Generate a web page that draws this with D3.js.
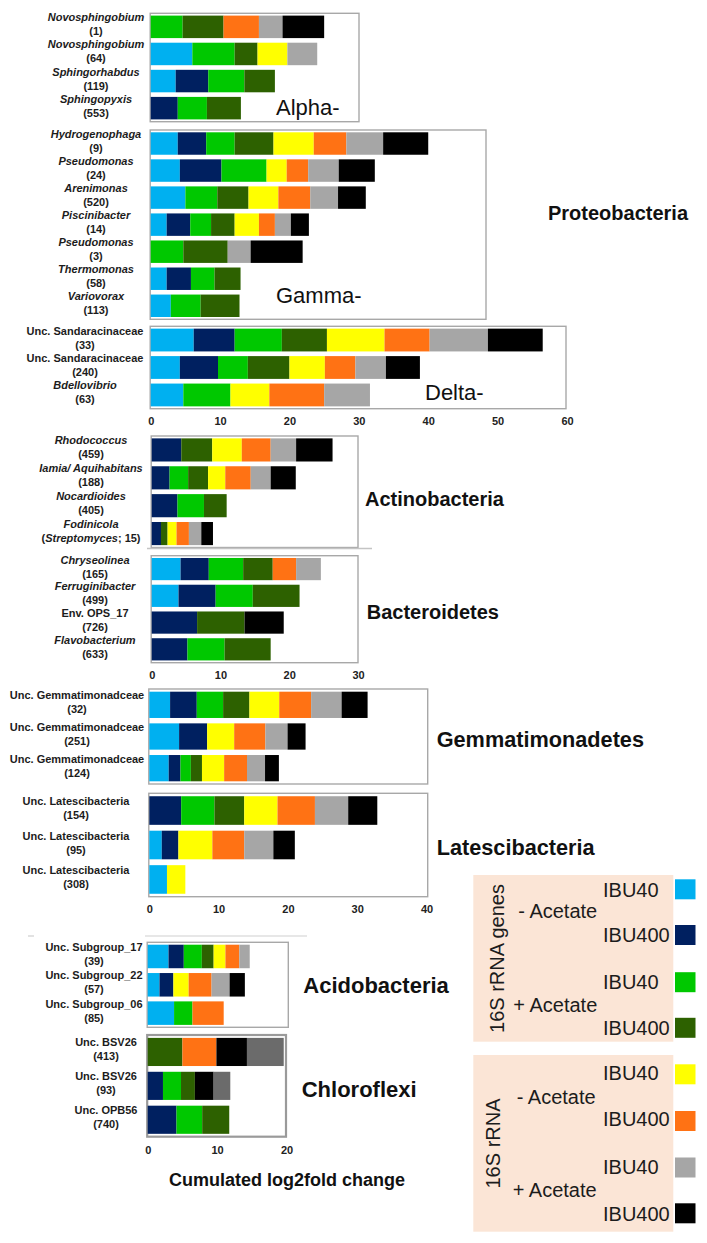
<!DOCTYPE html>
<html><head><meta charset="utf-8">
<script src="https://cdn.jsdelivr.net/npm/d3@7"></script>
<style>
html,body{margin:0;padding:0;background:#fff;}
svg{display:block;font-family:"Liberation Sans",Arial,sans-serif;}
</style></head>
<body><svg id="chart" width="707" height="1243"></svg>
<script>
// ---------------- DATA ----------------
const taxonName = ["Novosphingobium","Novosphingobium","Sphingorhabdus","Sphingopyxis",
  "Hydrogenophaga","Pseudomonas","Arenimonas","Piscinibacter","Pseudomonas","Thermomonas","Variovorax",
  "Unc. Sandaracinaceae","Unc. Sandaracinaceae","Bdellovibrio",
  "Rhodococcus","Iamia/ Aquihabitans","Nocardioides","Fodinicola",
  "Chryseolinea","Ferruginibacter","Env. OPS_17","Flavobacterium",
  "Unc. Gemmatimonadceae","Unc. Gemmatimonadceae","Unc. Gemmatimonadceae",
  "Unc. Latescibacteria","Unc. Latescibacteria","Unc. Latescibacteria",
  "Unc. Subgroup_17","Unc. Subgroup_22","Unc. Subgroup_06",
  "Unc. BSV26","Unc. BSV26","Unc. OPB56"];
const taxonNote = ["1","64","119","553","9","24","520","14","3","58","113","33","240","63",
  "459","188","405","Streptomyces; 15","165","499","726","633","32","251","124","154","95","308",
  "39","57","85","413","93","740"];
const italicName = [1,1,1,1,1,1,1,1,1,1,1,0,0,1,1,1,1,1,1,1,0,1,0,0,0,0,0,0,0,0,0,0,0,0];

// series values (cumulated log2fold change), one entry per taxon
const dnaNoAcIBU40   = [0,6.0,3.6,0, 3.9,4.2,5.0,2.3,0,2.3,2.9, 6.2,4.2,4.7, 0,0,0,0, 4.2,3.9,0,0, 3.0,4.3,2.8, 0,1.8,2.55, 3.0,1.7,3.8, 0,0,0];
const dnaNoAcIBU400  = [0,0,4.7,3.9, 4.1,6.0,0,3.4,0,3.5,0, 5.9,5.5,0, 4.3,2.6,3.75,1.35, 4.1,5.4,6.6,5.2, 3.85,4.05,1.7, 4.6,2.4,0, 2.2,2.0,0, 0,2.2,4.15];
const dnaAcIBU40     = [4.6,6.1,5.2,4.2, 4.1,6.5,4.6,3.0,4.7,3.4,4.3, 6.8,4.3,6.8, 0,2.7,3.85,0, 5.0,5.4,0,5.4, 3.8,0,1.5, 4.8,0,0, 2.6,0,2.65, 0,2.6,3.7];
const dnaAcIBU400    = [5.9,3.3,4.4,4.9, 5.6,0,4.5,3.4,6.4,3.75,5.6, 6.5,6.0,0, 4.5,2.9,3.3,0.96, 4.3,6.8,6.9,6.7, 3.8,0,1.6, 4.3,0,0, 1.7,0,0, 5.0,2.0,3.9];
const rnaNoAcIBU40   = [0,4.3,0,0, 5.8,2.9,4.3,3.5,0,0,0, 8.3,5.1,5.6, 4.3,2.5,0,1.3, 0,0,0,0, 4.3,3.9,3.2, 4.8,4.9,2.65, 1.7,2.2,0, 0,0,0];
const rnaNoAcIBU400  = [5.1,0,0,0, 4.7,3.1,4.6,2.3,0,0,0, 6.5,4.4,7.9, 4.2,3.7,0,1.8, 3.4,0,0,0, 4.6,4.5,3.3, 5.4,4.6,0, 2.0,3.3,4.5, 4.9,0,0];
const rnaAcIBU40     = [3.4,4.3,0,0, 5.3,4.4,4.0,2.3,3.3,0,0, 8.4,4.4,6.6, 3.7,2.9,0,1.8, 3.6,0,0,0, 4.4,3.2,2.6, 4.8,4.2,0, 1.5,2.6,0, 0,0,0];
const rnaAcIBU400    = [6.0,0,0,0, 6.5,5.2,4.0,2.6,7.5,0,0, 7.9,4.9,0, 5.3,3.65,0,1.7, 0,0,5.7,0, 3.75,2.6,2.0, 4.2,3.1,0, 0,2.2,0, 4.4,2.7,0];
const unassigned     = [0,0,0,0, 0,0,0,0,0,0,0, 0,0,0, 0,0,0,0, 0,0,0,0, 0,0,0, 0,0,0, 0,0,0, 5.3,2.4,0];

const seriesKeys = ["dnaNoAcIBU40","dnaNoAcIBU400","dnaAcIBU40","dnaAcIBU400","rnaNoAcIBU40","rnaNoAcIBU400","rnaAcIBU40","rnaAcIBU400","unassigned"];
const seriesValues = [dnaNoAcIBU40,dnaNoAcIBU400,dnaAcIBU40,dnaAcIBU400,rnaNoAcIBU40,rnaNoAcIBU400,rnaAcIBU40,rnaAcIBU400,unassigned];

const axisTicks = [[0,10,20,30,40,50,60],[0,10,20,30],[0,10,20,30,40],[0,10,20]];
const phylumLabels = ["Proteobacteria","Actinobacteria","Bacteroidetes","Gemmatimonadetes","Latescibacteria","Acidobacteria","Chloroflexi"];
const classLabels = ["Alpha-","Gamma-","Delta-"];
const axisTitle = "Cumulated log2fold change";
const legendType = ["16S rRNA genes","16S rRNA"];
const legendAcetate = ["- Acetate","+ Acetate","- Acetate","+ Acetate"];
const legendIBU = ["IBU40","IBU400","IBU40","IBU400","IBU40","IBU400","IBU40","IBU400"];

// ---------------- STYLE / LAYOUT ----------------
const colors = ["#00B0F0","#002060","#00C800","#2D6100","#FFFF00","#FF7214","#A6A6A6","#000000","#6B6B6B"];
const panels = [
  {max:60, range:[150.7,567], axisY:425.3, boxes:[
    {from:0,to:4,top:13.3,bottom:121.7,right:359,cx:96},
    {from:4,to:11,top:130,bottom:319.3,right:486,cx:96},
    {from:11,to:14,top:326.3,bottom:408.7,right:566,cx:85}]},
  {max:30, range:[151.7,358], axisY:679, boxes:[
    {from:14,to:18,top:436,bottom:547.5,right:358,cx:91},
    {from:18,to:22,top:555.7,bottom:662.7,right:358,cx:95}]},
  {max:40, range:[149.3,426.5], axisY:913, boxes:[
    {from:22,to:25,top:689,bottom:784,right:427.7,cx:77},
    {from:25,to:28,top:793.3,bottom:896.7,right:427.7,cx:76}]},
  {max:20, range:[147.7,286.5], axisY:1154, boxes:[
    {from:28,to:31,top:942.3,bottom:1027.3,right:288.3,cx:94},
    {from:31,to:34,top:1035,bottom:1136.7,right:286,cx:106,thick:true}]}
];
const phylumPos = [[548,220],[365,505.7],[366.7,619],[436.7,746.7],[436.7,854.5],[303.3,993.3],[301.7,1097.3]];
const phylumSize = [20,20,20,21.7,21.7,22,22];
const classPos = [[276,115],[276,303.3],[425,399.7]];

// ---------------- DRAW ----------------
const svg = d3.select("#chart");
const textCol = "#1c1c1c";

const rows = taxonName.map((n,i)=>{
  const r = {idx:i};
  seriesKeys.forEach((k,j)=> r[k] = seriesValues[j][i]);
  return r;
});
const stacked = d3.stack().keys(seriesKeys)(rows);

panels.forEach((p,pi)=>{
  const x = d3.scaleLinear().domain([0,p.max]).range(p.range);
  p.boxes.forEach(b=>{
    const idxs = d3.range(b.from,b.to);
    const y = d3.scaleBand().domain(idxs).range([b.top,b.bottom]).paddingInner(0.17).paddingOuter(0.085);
    const g = svg.append("g");
    g.append("rect").attr("x",x(0)-0.5).attr("y",b.top).attr("width",b.right-x(0)+0.5).attr("height",b.bottom-b.top)
      .attr("fill","#fff").attr("stroke", b.thick?"#9a9a9a":"#a8a8a8").attr("stroke-width", b.thick?2.2:1.4);
    stacked.forEach((s,si)=>{
      g.selectAll(null).data(s.filter(d=>idxs.includes(d.data.idx) && d[1]-d[0]>0)).enter()
        .append("rect")
        .attr("x",d=>x(d[0])).attr("width",d=>x(d[1])-x(d[0]))
        .attr("y",d=>y(d.data.idx)).attr("height",y.bandwidth())
        .attr("fill",colors[si]);
    });
    idxs.forEach(i=>{
      const c = y(i)+y.bandwidth()/2;
      g.append("text").attr("x",b.cx).attr("y",c-5.5).attr("text-anchor","middle")
        .attr("font-size",11).attr("font-weight","bold").attr("font-style",italicName[i]?"italic":"normal")
        .attr("fill",textCol).text(taxonName[i]);
      const t = g.append("text").attr("x",b.cx).attr("y",c+8.5).attr("text-anchor","middle")
        .attr("font-size",11).attr("font-weight","bold").attr("fill",textCol);
      const note = taxonNote[i];
      if(note.includes(";")){
        const parts = note.split(";");
        t.append("tspan").text("(");
        t.append("tspan").attr("font-style","italic").text(parts[0]);
        t.append("tspan").text(";"+parts[1]+")");
      } else t.text("("+note+")");
    });
  });
  const ax = svg.append("g").attr("transform",`translate(0,${p.axisY-11})`)
    .call(d3.axisBottom(x).tickValues(axisTicks[pi]).tickSize(0).tickPadding(0).tickFormat(d3.format("d")));
  ax.select(".domain").remove();
  ax.selectAll("text").attr("font-size",11).attr("font-weight","bold").attr("fill","#222")
    .attr("font-family","'Liberation Sans',Arial,sans-serif").attr("dy","0").attr("y",11);
});

// separators
svg.append("line").attr("x1",147).attr("x2",372).attr("y1",548.5).attr("y2",548.5).attr("stroke","#c4c4c4").attr("stroke-width",1.5);
svg.append("line").attr("x1",145).attr("x2",307).attr("y1",936).attr("y2",936).attr("stroke","#cfcfcf").attr("stroke-width",1.2);
svg.append("line").attr("x1",28).attr("x2",34).attr("y1",936).attr("y2",936).attr("stroke","#cfcfcf").attr("stroke-width",1.2);

phylumLabels.forEach((t,i)=>{
  svg.append("text").attr("x",phylumPos[i][0]).attr("y",phylumPos[i][1]).attr("font-size",phylumSize[i])
    .attr("font-weight","bold").attr("fill","#111").text(t);
});
classLabels.forEach((t,i)=>{
  svg.append("text").attr("x",classPos[i][0]).attr("y",classPos[i][1]).attr("font-size",22)
    .attr("fill","#111").text(t);
});
svg.append("text").attr("x",287).attr("y",1186).attr("text-anchor","middle").attr("font-size",18)
  .attr("font-weight","bold").attr("fill","#111").text(axisTitle);

// legend
const lg = svg.append("g");
const legBoxes = [[473.3,875,200,166.7],[473.3,1055,200,176.7]];
legBoxes.forEach(b=> lg.append("rect").attr("x",b[0]).attr("y",b[1]).attr("width",b[2]).attr("height",b[3]).attr("fill","#FBE5D6"));
const typePos = [[497,958.5],[493,1143.5]];
legendType.forEach((t,i)=>{
  lg.append("text").attr("transform",`translate(${typePos[i][0]},${typePos[i][1]}) rotate(-90)`)
    .attr("text-anchor","middle").attr("dy","0.35em").attr("font-size",20).attr("fill",textCol).text(t);
});
const acPos = [[518.3,918.3],[513.3,1011.7],[516.7,1104],[512.7,1196.7]];
legendAcetate.forEach((t,i)=>{
  lg.append("text").attr("x",acPos[i][0]).attr("y",acPos[i][1]).attr("font-size",20).attr("fill",textCol).text(t);
});
const ibuBase = [897.3,942.3,989.3,1035,1080,1126,1174,1220.7];
const swC = [889.3,935,982.2,1027.8,1074.3,1121,1167.5,1213.3];
legendIBU.forEach((t,i)=>{
  lg.append("text").attr("x",603).attr("y",ibuBase[i]).attr("font-size",20).attr("fill",textCol).text(t);
  lg.append("rect").attr("x",675).attr("y",swC[i]-10).attr("width",20.5).attr("height",20).attr("fill",colors[i]);
});
</script></body></html>
